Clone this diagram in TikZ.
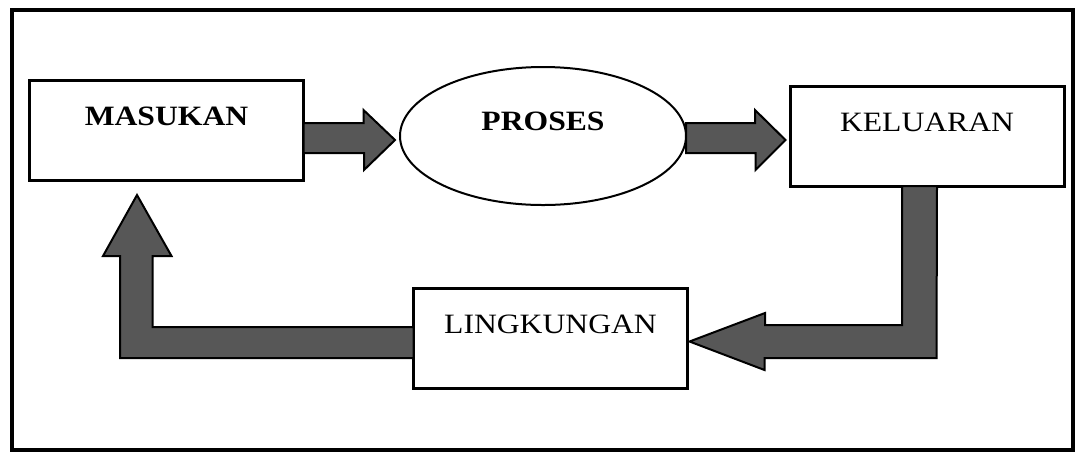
\documentclass[tikz,border=0pt]{standalone}
\usepackage{fontspec}
\setmainfont{Liberation Serif}[FakeStretch=1.13]
\usetikzlibrary{shapes.geometric,calc}

\begin{document}
\begin{tikzpicture}[
  x=0.5pt, y=-0.5pt,
  box/.style={rectangle, draw, line width=1.5pt, minimum width=137pt, minimum height=50pt,
    inner sep=0pt, outer sep=0pt, text height=22.5pt, text depth=27.5pt, font=\fontsize{14}{17}\selectfont},
  oval/.style={ellipse, draw, line width=1pt, minimum width=143pt, minimum height=69pt,
    inner sep=0pt, outer sep=0pt, text height=9pt, text depth=15pt, font=\fontsize{14}{17}\selectfont\bfseries},
  blockarrow/.style={draw=black, fill=black!66, line width=1pt, line join=miter},
  frame/.style={draw, line width=1.75pt}
]
\useasboundingbox (0,0) rectangle (1076,452);

% Outer frame
\draw[frame] (12,10) rectangle (1073,450);

% Top row
\node[box] (masukan) at (166.5,130) {\textbf{MASUKAN}};
\node[oval] (proses) at (543,136) {PROSES};
\node[box] (keluaran) at (927,136) {KELUARAN};

% Feedback
\node[box] (lingkungan) at (550.5,338.5) {LINGKUNGAN};

% Arrows
\draw[blockarrow] ($(masukan.east)+(0,-7)$) -- ++(60,0) -- ++(0,-13)
  -- ($(proses.west)+(-5,4)$) -- ++(-31,30) -- ++(0,-17)
  -- ($(masukan.east)+(0,23)$) -- cycle;
\draw[blockarrow] ($(proses.east)+(0,-13)$) -- ++(69,0) -- ++(0,-13)
  -- ($(keluaran.west)+(-4.5,4)$) -- ++(-30,30) -- ++(0,-17)
  -- ($(proses.east)+(0,17)$) -- cycle;
\draw[blockarrow] ($(keluaran.south)+(-25,0)$) -- ++(0,139) -- ++(-137,0) -- ++(0,-12)
  -- ($(lingkungan.east)+(2,3)$) -- ++(75,28.5) -- ++(0,-12) -- ++(172,0)
  -- ($(keluaran.south)+(10,0)$) -- cycle;
\draw[blockarrow] ($(lingkungan.west)+(0,-11.5)$) -- ++(-261,0) -- ++(0,-71) -- ++(19,0)
  -- ($(masukan.south)+(-29.5,15)$) -- ++(-34,61) -- ++(17,0) -- ++(0,102)
  -- ($(lingkungan.west)+(0,19.5)$) -- cycle;

\end{tikzpicture}
\end{document}
